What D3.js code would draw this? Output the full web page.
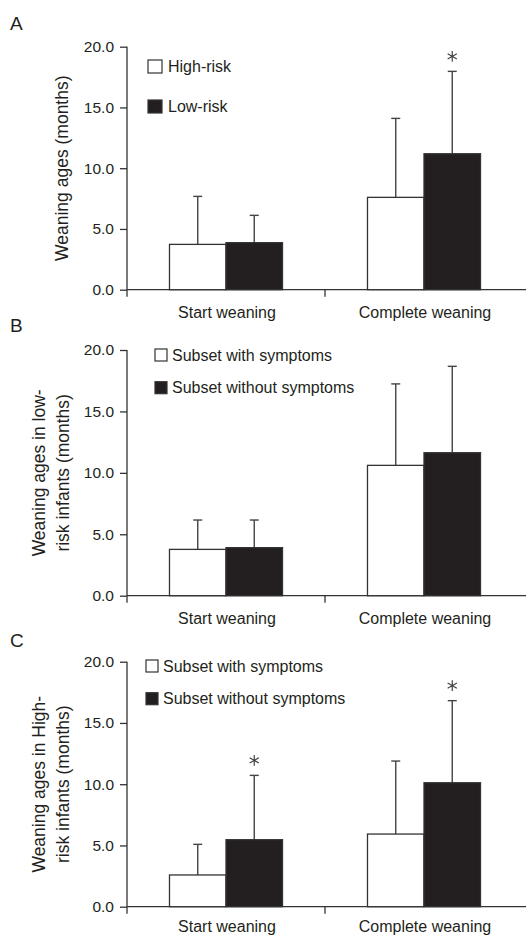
<!DOCTYPE html>
<html>
<head>
<meta charset="utf-8">
<script src="https://cdn.jsdelivr.net/npm/d3@7"></script>
<style>
  body { margin: 0; background: #fff; }
  text { font-family: "Liberation Sans", Arial, Helvetica, sans-serif; fill: #231f20; }
</style>
</head>
<body>
<div id="charts"></div>
<script>
// data (means and SD, months)
let categories = ["Start weaning", "Complete weaning"];

let aSeries = ["High-risk", "Low-risk"];
let aMeans = [[3.73, 7.6], [3.87, 11.19]];
let aSD = [[3.95, 6.5], [2.25, 6.78]];
let aStars = [[false, false], [false, true]];

let bSeries = ["Subset with symptoms", "Subset without symptoms"];
let bMeans = [[3.77, 10.61], [3.91, 11.64]];
let bSD = [[2.39, 6.63], [2.25, 7.03]];
let bStars = [[false, false], [false, false]];

let cSeries = ["Subset with symptoms", "Subset without symptoms"];
let cMeans = [[2.59, 5.93], [5.47, 10.12]];
let cSD = [[2.5, 5.96], [5.25, 6.7]];
let cStars = [[false, false], [true, true]];

let yTicks = [0, 5, 10, 15, 20];

let w = 526;
let h = 936;
let ink = "#231f20";
let axisColor = "#333";

let svg = d3.select("#charts")
  .append("svg")
  .attr("width", w)
  .attr("height", h);

// panel layout
let panels = [
  { letter: "A", letterY: 30, top: 46.7, bottom: 289.7, catDy: 28,
    series: aSeries, means: aMeans, sd: aSD, stars: aStars,
    ylabel: ["Weaning ages (months)"], labelX: [62],
    legX: 148, legY: [60, 100], legW: 14, legH: 13, legTextX: 168 },
  { letter: "B", letterY: 331.7, top: 350, bottom: 595.7, catDy: 28,
    series: bSeries, means: bMeans, sd: bSD, stars: bStars,
    ylabel: ["Weaning ages in low-", "risk infants (months)"], labelX: [39, 63],
    legX: 155, legY: [349, 381.7], legW: 12, legH: 12, legTextX: 172 },
  { letter: "C", letterY: 646.7, top: 661.7, bottom: 906.7, catDy: 25.5,
    series: cSeries, means: cMeans, sd: cSD, stars: cStars,
    ylabel: ["Weaning ages in High-", "risk infants (months)"], labelX: [39, 63],
    legX: 146, legY: [660, 692.7], legW: 12, legH: 12, legTextX: 163 }
];

let left = 127;
let right = 523;
let fills = ["#ffffff", ink];

let xScale = d3.scaleBand()
  .domain(categories)
  .range([left, right])
  .paddingInner(0)
  .paddingOuter(0);

panels.forEach(function (p) {
  let g = svg.append("g").classed("panel", true);

  let yScale = d3.scaleLinear()
    .domain([0, 20])
    .range([p.bottom, p.top]);

  let xSub = d3.scaleBand()
    .domain(d3.range(p.series.length))
    .range([0, xScale.bandwidth()])
    .paddingInner(0)
    .paddingOuter(0.752);

  // panel letter
  g.append("text")
    .attr("x", 10)
    .attr("y", p.letterY)
    .attr("font-size", 19)
    .text(p.letter);

  // y axis
  let yAxis = d3.axisLeft(yScale)
    .tickValues(yTicks)
    .tickFormat(d3.format(".1f"))
    .tickSize(7)
    .tickPadding(6)
    .tickSizeOuter(0);
  let yAxisGroup = g.append("g")
    .attr("transform", "translate(" + left + ",0)")
    .call(yAxis);
  yAxisGroup.select(".domain").remove();
  yAxisGroup.selectAll("line").attr("stroke", axisColor).attr("stroke-width", 1.3);
  yAxisGroup.selectAll("text")
    .attr("font-size", 15.5)
    .attr("font-family", "Liberation Sans, Arial, sans-serif")
    .attr("fill", ink);
  // vertical axis line runs a bit below zero
  g.append("line")
    .attr("x1", left).attr("x2", left)
    .attr("y1", p.top).attr("y2", p.bottom + 7)
    .attr("stroke", axisColor).attr("stroke-width", 1.3);

  // y label
  let cy = (p.top + p.bottom) / 2;
  p.ylabel.forEach(function (line, i) {
    g.append("text")
      .attr("transform", "translate(" + p.labelX[i] + "," + cy + ") rotate(-90)")
      .attr("text-anchor", "middle")
      .attr("dominant-baseline", "central")
      .attr("font-size", 17.5)
      .text(line);
  });

  // x axis
  g.append("line")
    .attr("x1", left).attr("x2", w)
    .attr("y1", p.bottom).attr("y2", p.bottom)
    .attr("stroke", axisColor).attr("stroke-width", 1.3);
  g.append("line")
    .attr("x1", xScale(categories[1])).attr("x2", xScale(categories[1]))
    .attr("y1", p.bottom).attr("y2", p.bottom + 7)
    .attr("stroke", axisColor).attr("stroke-width", 1.3);
  categories.forEach(function (c) {
    g.append("text")
      .attr("x", xScale(c) + xScale.bandwidth() / 2 + 1)
      .attr("y", p.bottom + p.catDy)
      .attr("text-anchor", "middle")
      .attr("font-size", 16)
      .text(c);
  });

  // bars + error bars
  p.series.forEach(function (s, si) {
    categories.forEach(function (c, ci) {
      let m = p.means[si][ci];
      let sd = p.sd[si][ci];
      let x0 = xScale(c) + xSub(si);
      let bw = xSub.bandwidth();
      let cx = x0 + bw / 2;
      let top = yScale(m + sd);

      g.append("line")
        .attr("x1", cx).attr("x2", cx)
        .attr("y1", yScale(m)).attr("y2", top)
        .attr("stroke", "#444").attr("stroke-width", 1.4);
      g.append("line")
        .attr("x1", cx - 4.5).attr("x2", cx + 4.5)
        .attr("y1", top).attr("y2", top)
        .attr("stroke", "#444").attr("stroke-width", 1.4);

      g.append("rect")
        .attr("x", x0)
        .attr("y", yScale(m))
        .attr("width", bw)
        .attr("height", p.bottom - yScale(m))
        .attr("fill", fills[si])
        .attr("stroke", "#333")
        .attr("stroke-width", 1.3);

      if (p.stars[si][ci]) {
        g.append("path")
          .attr("transform", "translate(" + cx + "," + (top - 15) + ")")
          .attr("d", d3.symbol().type(d3.symbolAsterisk).size(80)())
          .attr("fill", "none")
          .attr("stroke", "#444")
          .attr("stroke-width", 1.2);
      }
    });
  });

  // legend
  p.series.forEach(function (s, si) {
    g.append("rect")
      .attr("x", p.legX)
      .attr("y", p.legY[si])
      .attr("width", p.legW)
      .attr("height", p.legH)
      .attr("fill", fills[si])
      .attr("stroke", "#333")
      .attr("stroke-width", 1.2);
    g.append("text")
      .attr("x", p.legTextX)
      .attr("y", p.legY[si] + p.legH / 2)
      .attr("dominant-baseline", "central")
      .attr("font-size", 16)
      .text(s);
  });
});
</script>
</body>
</html>
